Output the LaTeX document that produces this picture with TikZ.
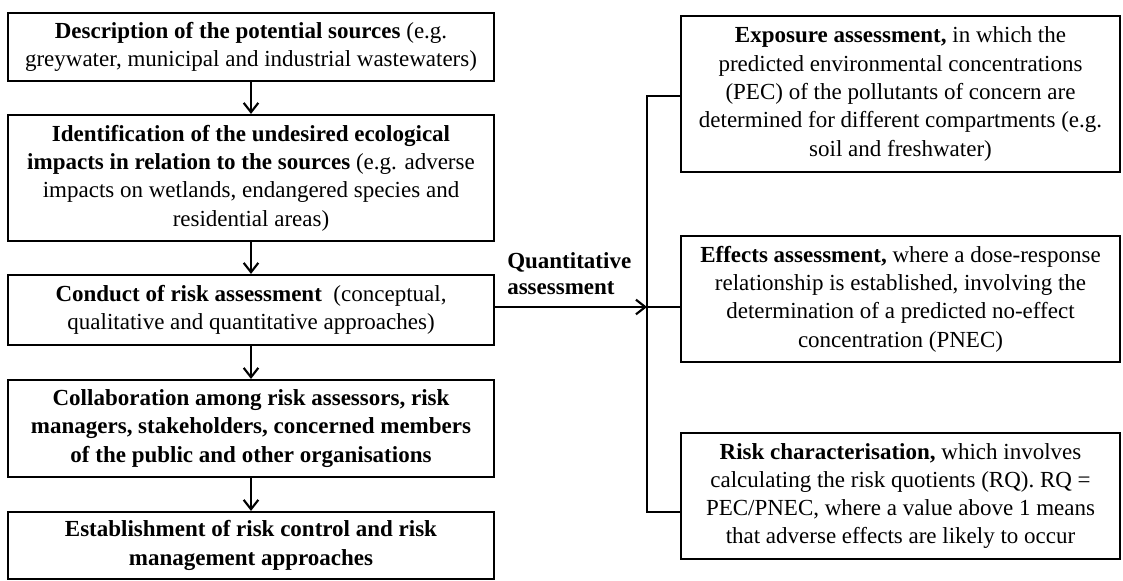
\documentclass[tikz,border=0pt]{standalone}
\usepackage{fontspec}
\setmainfont{Liberation Serif}
\usetikzlibrary{arrows.meta}
\begin{document}
\begin{tikzpicture}[x=0.75pt,y=-0.75pt,
  every node/.style={font=\fontsize{17.25}{21.2}\selectfont},
  box/.style={draw, line width=1.6pt, align=center, inner sep=0pt},
  lbox/.style={box, minimum width=364.5pt, minimum height=#1},
  rbox/.style={box, minimum width=329.25pt, minimum height=#1},
  conn/.style={line width=1.6pt},
  arr/.style={conn, -{Straight Barb[length=7pt, width=11pt, line width=1.6pt]}}
]
\useasboundingbox (0,0) rectangle (1123,581);

% main sequence of steps
\node[lbox=51pt] (b1) at (251,47)
  {\textbf{Description of the potential sources} (e.g.\\
   greywater, municipal and industrial wastewaters)};
\node[lbox=94.5pt] (b2) at (251,178)
  {\textbf{Identification of the undesired ecological}\\
   \textbf{impacts in relation to the sources} (e.g. adverse\\
   impacts on wetlands, endangered species and\\
   residential areas)};
\node[lbox=52.5pt] (b3) at (251,310)
  {\textbf{Conduct of risk assessment}\ \ (conceptual,\\
   qualitative and quantitative approaches)};
\node[lbox=72.75pt] (b4) at (251,428.5)
  {\textbf{Collaboration among risk assessors, risk}\\
   \textbf{managers, stakeholders, concerned members}\\
   \textbf{of the public and other organisations}};
\node[lbox=50.25pt] (b5) at (251,545.5)
  {\textbf{Establishment of risk control and risk}\\
   \textbf{management approaches}};

\draw[arr] (b1) -- (b2);
\draw[arr] (b2) -- (b3);
\draw[arr] (b3) -- (b4);
\draw[arr] (b4) -- (b5);

% quantitative assessment branch
\node[rbox=117pt] (e1) at (900.5,94)
  {\textbf{Exposure assessment,}\ in which the\\
   predicted environmental concentrations\\
   (PEC) of the pollutants of concern are\\
   determined for different compartments (e.g.\\
   soil and freshwater)};
\node[rbox=94.5pt] (e2) at (900.5,299)
  {\textbf{Effects assessment,} where a dose-response\\
   relationship is established, involving the\\
   determination of a predicted no-effect\\
   concentration (PNEC)};
\node[rbox=94.5pt] (e3) at (900.5,496)
  {\textbf{Risk characterisation,}\ which involves\\
   calculating the risk quotients (RQ). RQ =\\
   PEC/PNEC, where a value above 1 means\\
   that adverse effects are likely to occur};

\coordinate (hub) at (647,307);
\coordinate (htop) at (647,96);
\coordinate (hbot) at (647,512);

\node[anchor=south west, align=left, inner sep=0pt, font=\fontsize{17.25}{19.5}\selectfont\bfseries] (ql) at (507,295)
  {Quantitative\\assessment};

\draw[arr] (b3.east |- hub) -- (hub);
\draw[conn] (e1.west |- htop) -- (htop) -- (hbot) -- (e3.west |- hbot);
\draw[conn] (hub) -- (e2.west |- hub);
\end{tikzpicture}
\end{document}
